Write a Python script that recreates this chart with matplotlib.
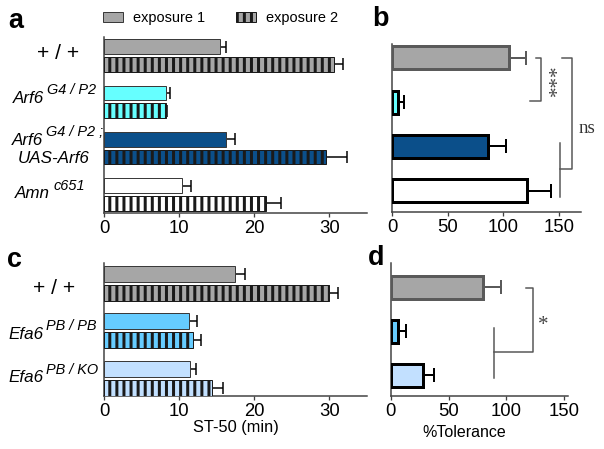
import matplotlib
matplotlib.use("Agg")
import matplotlib.pyplot as plt
import numpy as np

DPI = 85
W, H = 604, 449


def px(v):
    # pixel sizes -> points at this dpi
    return v * 72 / DPI


plt.rcParams.update({
    "font.family": ["Liberation Sans", "DejaVu Sans"],
    "hatch.linewidth": px(3),
    "axes.linewidth": px(1.5),
    "axes.edgecolor": "#404040",
    "xtick.color": "#404040",
    "xtick.labelcolor": "black",
    "xtick.labelsize": px(18.5),
    "xtick.major.size": px(4),
    "xtick.major.width": px(1.3),
    "xtick.major.pad": px(3),
})

# ---- data ----
a_exp1 = [15.5, 8.2, 16.2, 10.4]
a_exp1_err = [0.8, 0.6, 1.2, 1.2]
a_exp2 = [30.6, 8.2, 29.6, 21.5]
a_exp2_err = [1.2, 0.15, 2.8, 2.0]
a_colors = ["#a6a6a6", "#66ffff", "#0b4f8a", "#ffffff"]

b_tol = [105, 5, 86, 121.5]
b_err = [15, 5.7, 16.5, 21.5]
b_edges = ["#5a5a5a", "black", "black", "black"]

c_exp1 = [17.4, 11.3, 11.4]
c_exp1_err = [1.3, 1.1, 0.9]
c_exp2 = [30.0, 11.9, 14.4]
c_exp2_err = [1.2, 1.0, 1.4]
c_colors = ["#a6a6a6", "#66ccff", "#c2e0ff"]

d_tol = [80, 6.6, 27.6]
d_err = [15, 6.4, 9.4]
d_edges = ["#5a5a5a", "black", "black"]

fig = plt.figure(figsize=(W / DPI, H / DPI), dpi=DPI)


def add_ax(left, top, right, bottom):
    return fig.add_axes([left / W, 1 - bottom / H, (right - left) / W, (bottom - top) / H])


def style(ax, xlim, ticks, ylim):
    ax.set_xlim(*xlim)
    ax.set_xticks(ticks)
    ax.set_ylim(*ylim)
    ax.set_yticks([])
    for s in ("top", "right"):
        ax.spines[s].set_visible(False)


def paired(ax, exp1, err1, exp2, err2, colors, off, h):
    y = np.arange(len(exp1))
    z = np.zeros(len(exp1))
    b1 = ax.barh(y - off, exp1, height=h, color=colors, edgecolor="#3a3a3a",
                 linewidth=px(1), zorder=3)
    b2 = ax.barh(y + off, exp2, height=h, color=colors, edgecolor="#1a1a1a",
                 linewidth=px(1), hatch="||", zorder=3)
    for yy, v, e in ((y - off, exp1, err1), (y + off, exp2, err2)):
        ax.errorbar(v, yy, xerr=[z, e], fmt="none", ecolor="black",
                    elinewidth=px(1.5), capsize=px(6), capthick=px(1.5), zorder=2)
    return b1, b2


def single(ax, vals, errs, colors, edges, h):
    y = np.arange(len(vals))
    ax.barh(y, vals, height=h, color=colors, edgecolor=edges, linewidth=px(3), zorder=3)
    for yy, v, e, c in zip(y, vals, errs, edges):
        ax.errorbar([v], [yy], xerr=[[0], [e]], fmt="none", ecolor=c,
                    elinewidth=px(2), capsize=px(7), capthick=px(2), zorder=2)


def gene(ax, x, y, base, sup=None):
    t = ax.text(x, y, base, transform=ax.get_yaxis_transform(), style="italic",
                fontsize=px(17), ha="left", va="center")
    if sup:
        ax.annotate(sup, xy=(1, 1), xycoords=t, xytext=(px(3), px(7.5)),
                    textcoords="offset points", style="italic", fontsize=px(14.5),
                    ha="left", va="top")


def plus(ax, x, y):
    ax.text(x, y, "+ / +", transform=ax.get_yaxis_transform(), fontsize=px(21),
            ha="left", va="center")


# ---- panel a ----
ax_a = add_ax(104, 37, 367, 213)
b1, b2 = paired(ax_a, a_exp1, a_exp1_err, a_exp2, a_exp2_err, a_colors, 0.189, 0.32)
style(ax_a, (0, 35), [0, 10, 20, 30], (3.4, -0.4))
plus(ax_a, -0.255, -0.05)
gene(ax_a, -0.346, 0.92, "Arf6", "G4 / P2")
gene(ax_a, -0.35, 1.83, "Arf6", "G4 / P2 ;")
gene(ax_a, -0.327, 2.22, "UAS-Arf6")
gene(ax_a, -0.338, 2.98, "Amn", "c651")
ax_a.legend([b1, b2], ["exposure 1", "exposure 2"], loc="center left",
            bbox_to_anchor=(103 / W, 1 - 18 / H), bbox_transform=fig.transFigure,
            ncol=2, frameon=False, fontsize=px(14.5), handlelength=1.4,
            handleheight=0.7, handletextpad=0.68, columnspacing=2.1,
            borderpad=0, borderaxespad=0)

# ---- panel b ----
ax_b = add_ax(392.3, 44, 581, 212)
single(ax_b, b_tol, b_err, a_colors, b_edges, 0.52)
style(ax_b, (0, 170), [0, 50, 100, 150], (3.48, -0.31))
br = dict(color="#555555", lw=px(1.5), clip_on=False)
ax_b.plot([129.5, 133.7, 133.7, 124], [0.01, 0.01, 0.97, 0.97], **br)
ax_b.plot([152.6, 161.6, 161.6, 151], [0.01, 0.01, 2.5, 2.5], **br)
ax_b.plot([151, 151], [1.93, 3.14], **br)
ax_b.text(149.5, 0.5, "***", family="Liberation Serif", fontsize=px(21), rotation=90,
          ha="center", va="center", color="#444444")
ax_b.text(175, 1.59, "ns", family="Liberation Serif", fontsize=px(19),
          ha="center", va="center", color="#333333")

# ---- panel c ----
ax_c = add_ax(104, 263, 367, 395.7)
paired(ax_c, c_exp1, c_exp1_err, c_exp2, c_exp2_err, c_colors, 0.2, 0.34)
style(ax_c, (0, 35), [0, 10, 20, 30], (2.37, -0.43))
plus(ax_c, -0.27, 0.1)
gene(ax_c, -0.365, 1.07, "Efa6", "PB / PB")
gene(ax_c, -0.365, 1.99, "Efa6", "PB / KO")
ax_c.set_xlabel("ST-50 (min)", fontsize=px(16.4))
ax_c.xaxis.set_label_coords(0.5, -0.183)

# ---- panel d ----
ax_d = add_ax(390.7, 263, 567.7, 396)
single(ax_d, d_tol, d_err, c_colors, d_edges, 0.53)
style(ax_d, (0, 153), [0, 50, 100, 150], (2.47, -0.55))
ax_d.plot([116.8, 122.9, 122.9, 89.4], [0.02, 0.02, 1.48, 1.48], **br)
ax_d.plot([89.4, 89.4], [0.93, 2.05], **br)
ax_d.text(131.5, 0.86, "*", family="Liberation Serif", fontsize=px(21),
          ha="center", va="center", color="#444444")
ax_d.set_xlabel("%Tolerance", fontsize=px(16))
ax_d.xaxis.set_label_coords(0.417, -0.218)

# ---- panel letters ----
for x, y, s in ((8, 28, "a"), (372, 26, "b"), (7, 266.7, "c"), (368, 265, "d")):
    fig.text(x / W, 1 - y / H, s, fontsize=px(27), fontweight="bold", va="baseline")

fig.savefig("out.png", dpi=DPI)
